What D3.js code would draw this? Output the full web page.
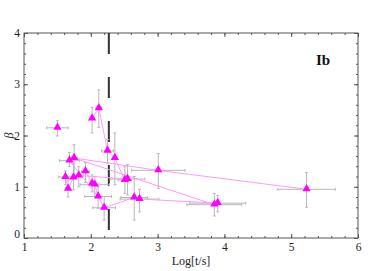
<!DOCTYPE html>
<html lang="en">
	<head>
		<meta charset="UTF-8"/>
		<title>beta vs log t</title>
		<script type="text/javascript" src="https://cdn.jsdelivr.net/npm/d3@7"></script>
		<style>
			body { margin: 0; background: #fff; }
			.axis path, .axis line { stroke: #555; }
			.axis text { font-family: "Liberation Serif", serif; font-size: 11.5px; fill: #222; }
		</style>
	</head>
	<body>
		<script type="text/javascript">
			// points: [log t, beta, x error, y low, y high]
			var points = [
				[1.50, 2.15, 0.16, 1.99, 2.29],
				[2.02, 2.33, 0.03, 2.05, 2.55],
				[2.12, 2.53, 0.04, 2.16, 2.89],
				[2.25, 1.70, 0.09, 1.46, 1.92],
				[2.36, 1.56, 0.03, 1.04, 2.05],
				[2.51, 1.13, 0.10, 0.87, 1.39],
				[2.55, 1.15, 0.26, 0.84, 1.43],
				[3.01, 1.32, 0.40, 0.97, 1.65],
				[5.23, 0.95, 0.43, 0.60, 1.28],
				[3.85, 0.65, 0.41, 0.43, 0.87],
				[3.90, 0.68, 0.42, 0.51, 0.83],
				[2.65, 0.79, 0.20, 0.35, 1.20],
				[2.73, 0.76, 0.29, 0.51, 0.95],
				[2.20, 0.59, 0.17, 0.35, 0.81],
				[2.11, 0.81, 0.20, 0.58, 1.00],
				[2.06, 1.04, 0.22, 0.81, 1.20],
				[2.02, 1.06, 0.04, 0.90, 1.23],
				[1.92, 1.30, 0.06, 1.08, 1.47],
				[1.82, 1.22, 0.07, 1.00, 1.39],
				[1.74, 1.18, 0.05, 0.94, 1.46],
				[1.62, 1.19, 0.10, 1.04, 1.31],
				[1.66, 0.96, 0.04, 0.80, 1.13],
				[1.68, 1.51, 0.15, 1.39, 1.67],
				[1.75, 1.56, 0.05, 1.17, 1.82]
			];
			// which points are joined, by index into points
			var tracks = [
				[1, 2, 3, 4, 5, 6],
				[23, 7, 8],
				[23, 9],
				[22, 14, 13, 11, 12, 10],
				[20, 21, 19, 18, 6],
				[17, 16, 15, 14]
			];
			var xTicks = [1, 2, 3, 4, 5, 6];
			var yTicks = [0, 1, 2, 3, 4];
			var breakTime = 2.27;

			var w = 374;
			var h = 271;
			var margin = {top: 33, right: 16, bottom: 33, left: 24};

			var svg = d3.select("body")
				.append("svg")
				.attr("width", w)
				.attr("height", h);

			var xScale = d3.scaleLinear()
				.domain([1, 6])
				.range([margin.left, w - margin.right]);

			var yScale = d3.scaleLinear()
				.domain([0, 4])
				.range([h - margin.bottom, margin.top]);

			var minorX = d3.range(1, 6.01, 0.2);
			var minorY = d3.range(0, 4.01, 0.2);

			// frame
			svg.append("rect")
				.attr("x", xScale(1))
				.attr("y", yScale(4))
				.attr("width", xScale(6) - xScale(1))
				.attr("height", yScale(0) - yScale(4))
				.attr("fill", "none")
				.attr("stroke", "#555");

			// inward ticks on all four sides
			function tickAxis(axis, tr, vals, size) {
				svg.append("g")
					.attr("class", "axis")
					.attr("transform", tr)
					.call(axis.tickValues(vals).tickSize(-size).tickFormat(""))
					.select(".domain").remove();
			}
			var x0 = "translate(0," + yScale(0) + ")";
			var x1 = "translate(0," + yScale(4) + ")";
			var y0 = "translate(" + xScale(1) + ",0)";
			var y1 = "translate(" + xScale(6) + ",0)";
			tickAxis(d3.axisBottom(xScale), x0, minorX, 2);
			tickAxis(d3.axisTop(xScale), x1, minorX, 2);
			tickAxis(d3.axisLeft(yScale), y0, minorY, 2);
			tickAxis(d3.axisRight(yScale), y1, minorY, 2);
			tickAxis(d3.axisBottom(xScale), x0, xTicks, 4);
			tickAxis(d3.axisTop(xScale), x1, xTicks, 4);
			tickAxis(d3.axisLeft(yScale), y0, yTicks, 4);
			tickAxis(d3.axisRight(yScale), y1, yTicks, 4);

			// labels
			var xAxis = d3.axisBottom(xScale).tickValues(xTicks).tickFormat(d3.format("d"))
				.tickSize(0).tickPadding(5);
			svg.append("g")
				.attr("class", "axis")
				.attr("transform", x0)
				.call(xAxis)
				.select(".domain").remove();

			var yAxis = d3.axisLeft(yScale).tickValues(yTicks).tickFormat(d3.format("d"))
				.tickSize(0).tickPadding(4);
			var yg = svg.append("g")
				.attr("class", "axis")
				.attr("transform", y0)
				.call(yAxis);
			yg.select(".domain").remove();
			yg.selectAll(".tick text")
				.attr("dy", function(d) { return d === 0 ? "-0.05em" : "0.32em"; });

			// break time
			svg.append("line")
				.attr("x1", xScale(breakTime))
				.attr("x2", xScale(breakTime))
				.attr("y1", yScale(4))
				.attr("y2", yScale(0))
				.attr("stroke", "#333")
				.attr("stroke-width", 2)
				.attr("stroke-dasharray", "21,23");

			// error bars
			var eb = svg.append("g")
				.attr("stroke", "#b8b8b8")
				.attr("stroke-width", 1)
				.attr("fill", "none");
			points.forEach(function(p) {
				var cx = xScale(p[0]), cy = yScale(p[1]);
				var xl = xScale(p[0] - p[2]), xr = xScale(p[0] + p[2]);
				var yl = yScale(p[3]), yh = yScale(p[4]);
				eb.append("path")
					.attr("d", "M" + xl + "," + cy + "H" + xr +
						"M" + xl + "," + (cy - 1.5) + "V" + (cy + 1.5) +
						"M" + xr + "," + (cy - 1.5) + "V" + (cy + 1.5) +
						"M" + cx + "," + yl + "V" + yh +
						"M" + (cx - 1.5) + "," + yl + "H" + (cx + 1.5) +
						"M" + (cx - 1.5) + "," + yh + "H" + (cx + 1.5));
			});

			// joining lines
			var line = d3.line()
				.x(function(i) { return xScale(points[i][0]); })
				.y(function(i) { return yScale(points[i][1]); });
			svg.selectAll(".track")
				.data(tracks)
				.enter()
				.append("path")
				.attr("class", "track")
				.attr("d", line)
				.attr("fill", "none")
				.attr("stroke", "#ff99ff")
				.attr("stroke-width", 1);

			// markers
			svg.selectAll(".pt")
				.data(points)
				.enter()
				.append("path")
				.attr("class", "pt")
				.attr("d", d3.symbol().type(d3.symbolTriangle).size(30))
				.attr("transform", function(d) {
					return "translate(" + xScale(d[0]) + "," + (yScale(d[1]) - 0.5) + ")";
				})
				.attr("fill", "#ff00ff");

			svg.append("text")
				.attr("x", (xScale(1) + xScale(6)) / 2)
				.attr("y", 265)
				.attr("text-anchor", "middle")
				.attr("font-family", "Liberation Serif, serif")
				.attr("font-size", "12px")
				.attr("fill", "#222")
				.text("Log[t/s]");

			svg.append("text")
				.attr("transform", "translate(13," + yScale(2) + ") rotate(-90)")
				.attr("text-anchor", "middle")
				.attr("font-family", "Liberation Serif, serif")
				.attr("font-style", "italic")
				.attr("font-size", "12px")
				.attr("fill", "#222")
				.text("β");

			svg.append("text")
				.attr("x", 316)
				.attr("y", 65)
				.attr("font-family", "Liberation Serif, serif")
				.attr("font-weight", "bold")
				.attr("font-size", "15px")
				.attr("fill", "#111")
				.text("Ib");
		</script>
	</body>
</html>
